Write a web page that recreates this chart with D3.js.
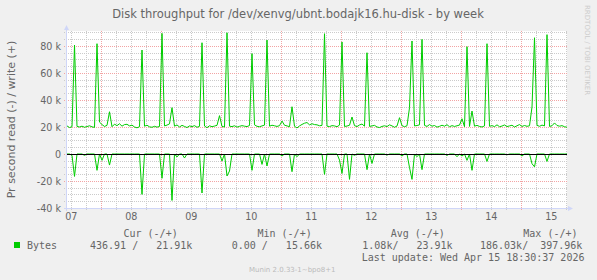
<!DOCTYPE html>
<html>
<head>
<meta charset="utf-8">
<script src="https://cdn.jsdelivr.net/npm/d3@7"></script>
<style>
  body { margin: 0; background: #f0f0f0; }
  text { font-family: "DejaVu Sans", sans-serif; fill: #666; }
  .mono { font-family: "DejaVu Sans Mono", monospace; font-size: 10px; white-space: pre; }
</style>
</head>
<body>
<div id="container"></div>
<script>
/* CONSTANTS AND GLOBALS */
const width = 597,
  height = 280,
  plotLeft = 67,
  plotRight = 567,
  plotTop = 31,
  plotBottom = 208;

/* DATA (hourly samples, kB/s) */
const startTime = new Date(2026, 3, 7, 10, 30);
const endTime = new Date(2026, 3, 15, 18, 30);

// write (+), one value per hour from startTime
const writeK = [
  20.8, 19.6, 20.2, 80.7, 20.4, 20.0, 20.6, 19.8, 20.3, 20.9, 20.1, 19.7, 81.7, 23.6, 21.8, 20.4, 21.2, 31.3, 20.2, 22.1,
  21.0, 22.4, 20.6, 21.8, 22.0, 20.8, 21.4, 20.0, 19.4, 20.2, 77.0, 20.6, 21.3, 20.1, 19.8, 20.5, 19.9, 20.4, 89.3, 20.8,
  21.4, 22.3, 34.3, 20.6, 21.5, 20.0, 21.2, 20.4, 19.6, 20.8, 20.3, 21.0, 19.8, 20.5, 82.4, 20.7, 19.5, 20.9, 20.2, 20.7,
  21.2, 28.4, 20.4, 20.0, 89.8, 20.6, 20.3, 20.9, 19.9, 20.5, 21.0, 20.6, 20.3, 21.1, 74.3, 21.6, 20.5, 20.2, 20.8, 21.4,
  84.4, 20.6, 21.3, 20.9, 20.4, 21.0, 24.4, 21.3, 20.8, 20.2, 35.0, 20.5, 19.3, 20.8, 21.9, 22.8, 23.3, 21.6, 22.4, 21.8,
  21.6, 20.9, 21.2, 89.1, 20.6, 20.3, 21.0, 20.8, 20.2, 21.4, 83.0, 20.4, 20.7, 21.3, 27.4, 21.0, 20.3, 21.5, 22.2, 20.6,
  75.0, 20.4, 20.8, 21.2, 20.0, 19.6, 20.4, 20.9, 20.3, 21.6, 20.8, 19.8, 20.7, 26.9, 21.0, 20.2, 20.9, 34.3, 83.7, 20.8,
  21.1, 21.6, 84.9, 21.2, 20.4, 21.8, 20.6, 21.1, 19.9, 20.5, 21.3, 20.6, 21.7, 20.2, 21.0, 20.4, 20.9, 21.4, 26.1, 20.2,
  79.5, 20.4, 31.8, 20.6, 21.2, 20.4, 20.0, 20.8, 81.7, 20.5, 21.0, 20.3, 21.6, 20.2, 20.7, 21.5, 20.3, 20.8, 21.3, 20.0,
  20.9, 21.8, 20.4, 21.1, 20.5, 20.9, 34.8, 86.1, 21.2, 20.5, 21.4, 20.8, 88.4, 20.4, 20.9, 23.0, 21.1, 20.6, 21.0, 20.2,
  19.8
];

// read (-), one value per hour from startTime
const readK = [
  0, 0, -1.0, -16.6, 0, 0, 0, -1.0, 0, 0, 0, 0, -12.1, 0, -4.7, 0, 0, -8.2, 0, 0,
  0, 0, 0, 0, 0, 0, 0, 0, 0, 0, -29.9, 0, 0, 0, 0, 0, 0, 0, -18.0, 0,
  0, 0, -34.4, 0, -2.2, 0, 0, -3.0, 0, 0, 0, 0, 0, 0, -28.9, 0, 0, 0, 0, 0,
  0, 0, -5.2, 0, -16.3, -12.6, 0, 0, 0, 0, 0, 0, 0, 0, -12.1, 0, 0, 0, -7.7, 0,
  -8.9, 0, 0, 0, 0, 0, -1.5, 0, 0, 0, -13.1, 0, -2.0, 0, 0, 0, 0, 0, 0, 0,
  0, 0, 0, -15.1, 0, 0, 0, 0, 0, -4.5, -14.4, 0, 0, -18.8, 0, -1.0, 0, 0, 0, 0,
  -11.6, 0, -7.0, 0, 0, 0, 0, 0, -0.8, 0, 0, 0, 0, 0, -1.5, 0, 0, -10.0, -18.8, 0,
  -2.0, 0, -11.6, 0, 0, 0, 0, 0, 0, 0, 0, 0, -1.0, 0, 0, 0, -2.0, 0, -1.5, 0,
  -4.7, 0, -12.1, 0, 0, 0, 0, 0, -5.5, 0, 0, 0, 0, 0, 0, 0, -0.6, 0, 0, 0,
  0, 0, -1.5, 0, 0, 0, -7.2, -9.5, 0, 0, 0, 0, -5.5, 0, 0, 0, 0, 0, 0, 0,
  0
];

const yTickValues = [-40000, -20000, 0, 20000, 40000, 60000, 80000];
const yTickLabels = ["-40 k", "-20 k", "0", "20 k", "40 k", "60 k", "80 k"];
const xTickDays = [7, 8, 9, 10, 11, 12, 13, 14, 15];
const xTickLabels = ["07", "08", "09", "10", "11", "12", "13", "14", "15"];

const legendHeads = ["Cur (-/+)", "Min (-/+)", "Avg (-/+)", "Max (-/+)"];
const legendValues = ["436.91 /   21.91k", "0.00 /   15.66k", "1.08k/   23.91k", "186.03k/  397.96k"];

const toPoints = arr => arr.map((v, i) => ({ t: d3.timeHour.offset(startTime, i), v: v * 1000 }));
const writeData = toPoints(writeK);
const readData = toPoints(readK);

// SCALES
const xScale = d3.scaleTime()
  .domain([startTime, endTime])
  .range([plotLeft, plotRight]);

const yScale = d3.scaleLinear()
  .domain([-40000, 91100])
  .range([plotBottom, plotTop]);

const px = v => Math.round(v) + 0.5;

// CREATE SVG ELEMENT
const svg = d3.select("#container")
  .append("svg")
  .attr("width", width)
  .attr("height", height);

svg.append("rect")
  .attr("width", width).attr("height", height)
  .attr("fill", "#f0f0f0");

svg.append("rect")
  .attr("x", plotLeft).attr("y", plotTop)
  .attr("width", plotRight - plotLeft).attr("height", plotBottom - plotTop)
  .attr("fill", "#ffffff");

// GRID
const minorColor = "#cbcbcb",
  majorColor = "#f2a4a4";

const minorY = d3.range(-40000, 91100, 5000);
svg.append("g").selectAll("line")
  .data(minorY.filter(d => d % 20000 !== 0))
  .join("line")
  .attr("x1", plotLeft - 3).attr("x2", plotRight)
  .attr("y1", d => px(yScale(d))).attr("y2", d => px(yScale(d)))
  .attr("stroke", minorColor)
  .attr("stroke-dasharray", "1,1");

const minorX = d3.timeHour.every(6).range(startTime, endTime);
svg.append("g").selectAll("line")
  .data(minorX)
  .join("line")
  .attr("x1", d => px(xScale(d))).attr("x2", d => px(xScale(d)))
  .attr("y1", plotTop).attr("y2", plotBottom + 2)
  .attr("stroke", minorColor)
  .attr("stroke-dasharray", "1,1");

svg.append("g").selectAll("line")
  .data(yTickValues)
  .join("line")
  .attr("x1", plotLeft - 3).attr("x2", plotRight)
  .attr("y1", d => px(yScale(d))).attr("y2", d => px(yScale(d)))
  .attr("stroke", majorColor)
  .attr("stroke-dasharray", "1,1");

svg.append("g").selectAll("line")
  .data(d3.timeDay.range(startTime, endTime))
  .join("line")
  .attr("x1", d => px(xScale(d))).attr("x2", d => px(xScale(d)))
  .attr("y1", plotTop).attr("y2", plotBottom + 2)
  .attr("stroke", majorColor)
  .attr("stroke-dasharray", "1,1");

// AXES
const yAxis = d3.axisLeft(yScale)
  .tickValues(yTickValues)
  .tickFormat((d, i) => yTickLabels[i])
  .tickSize(0).tickPadding(6);
svg.append("g")
  .attr("transform", `translate(${plotLeft},0)`)
  .call(yAxis)
  .call(g => g.select(".domain").remove())
  .selectAll("text")
  .style("font-size", "9.6px").style("font-family", "DejaVu Sans").attr("fill", "#666");

const xAxis = d3.axisBottom(xScale)
  .tickValues(xTickDays.map(d => new Date(2026, 3, d, 12)))
  .tickFormat((d, i) => xTickLabels[i])
  .tickSize(0).tickPadding(5);
svg.append("g")
  .attr("transform", `translate(0,${plotBottom})`)
  .call(xAxis)
  .call(g => g.select(".domain").remove())
  .selectAll("text")
  .style("font-size", "9.6px").style("font-family", "DejaVu Sans").attr("fill", "#666");

const axisColor = "#cfd6f8";
svg.append("line")
  .attr("x1", plotLeft - 0.5).attr("x2", plotLeft - 0.5)
  .attr("y1", plotBottom + 3).attr("y2", plotTop - 3)
  .attr("stroke", axisColor);
svg.append("line")
  .attr("x1", plotLeft - 3).attr("x2", plotRight + 3)
  .attr("y1", plotBottom + 0.5).attr("y2", plotBottom + 0.5)
  .attr("stroke", axisColor);
svg.append("path")
  .attr("d", `M${plotLeft - 3},${plotTop - 1}L${plotLeft - 0.5},${plotTop - 6}L${plotLeft + 2},${plotTop - 1}Z`)
  .attr("fill", axisColor);
svg.append("path")
  .attr("d", `M${plotRight + 1},${plotBottom - 2}L${plotRight + 6},${plotBottom + 0.5}L${plotRight + 1},${plotBottom + 3}Z`)
  .attr("fill", axisColor);

// LINES
const line = d3.line()
  .x(d => xScale(d.t))
  .y(d => yScale(d.v));

svg.append("path")
  .datum(readData)
  .attr("d", line)
  .attr("fill", "none")
  .attr("stroke", "#00cc00")
  .attr("stroke-width", 1);

svg.append("path")
  .datum(writeData)
  .attr("d", line)
  .attr("fill", "none")
  .attr("stroke", "#00cc00")
  .attr("stroke-width", 1);

svg.append("line")
  .attr("x1", plotLeft).attr("x2", plotRight)
  .attr("y1", px(yScale(0))).attr("y2", px(yScale(0)))
  .attr("stroke", "#000");

// TITLES
svg.append("text")
  .attr("x", 298).attr("y", 18)
  .attr("text-anchor", "middle")
  .style("font-size", "11.5px")
  .text("Disk throughput for /dev/xenvg/ubnt.bodajk16.hu-disk - by week");

svg.append("text")
  .attr("transform", `translate(14.5,${(plotTop + plotBottom) / 2}) rotate(-90)`)
  .attr("text-anchor", "middle")
  .style("font-size", "11px")
  .text("Pr second read (-) / write (+)");

svg.append("text")
  .attr("transform", "translate(585,5) rotate(90)")
  .style("font-size", "7px")
  .style("fill", "#cccccc")
  .text("RRDTOOL / TOBI OETIKER");

// LEGEND
const headX = [123.5, 257.5, 390.7, 523.3];
const valueX = [90, 231.7, 362.3, 480];
svg.append("g").selectAll("text")
  .data(legendHeads)
  .join("text")
  .attr("class", "mono")
  .attr("x", (d, i) => headX[i]).attr("y", 237)
  .text(d => d);

svg.append("rect")
  .attr("x", 14).attr("y", 242).attr("width", 6).attr("height", 6)
  .attr("fill", "#00cc00");
svg.append("text").attr("class", "mono")
  .attr("x", 27).attr("y", 249).text("Bytes");

svg.append("g").selectAll("text")
  .data(legendValues)
  .join("text")
  .attr("class", "mono")
  .attr("x", (d, i) => valueX[i]).attr("y", 249)
  .text(d => d);

svg.append("text").attr("class", "mono")
  .attr("x", 361.7).attr("y", 261)
  .text("Last update: Wed Apr 15 18:30:37 2026");

svg.append("text")
  .attr("x", 249).attr("y", 272)
  .style("font-size", "7px").style("fill", "#bbb")
  .text("Munin 2.0.33-1~bpo8+1");
</script>
</body>
</html>
